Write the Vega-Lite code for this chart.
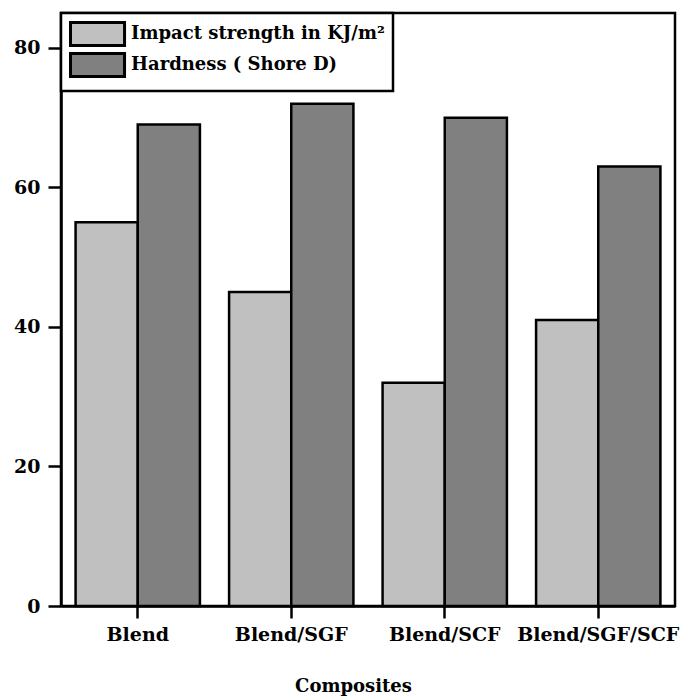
{
  "$schema": "https://vega.github.io/schema/vega-lite/v6.json",
  "width": 614,
  "height": 593,
  "autosize": {"type": "none"},
  "padding": {"left": 61, "top": 13, "right": 11, "bottom": 92},
  "background": "white",
  "config": {
    "view": {"stroke": "black", "strokeWidth": 2.5},
    "axis": {
      "labelFont": "DejaVu Serif",
      "labelFontWeight": "bold",
      "labelColor": "black",
      "titleFont": "DejaVu Serif",
      "titleFontWeight": "bold",
      "titleColor": "black",
      "domainColor": "black",
      "domainWidth": 2.5,
      "tickColor": "black",
      "tickWidth": 2.5,
      "grid": false
    }
  },
  "data": {
    "values": [
      {"composite": "Blend", "series": "Impact strength in KJ/m²", "value": 55},
      {"composite": "Blend", "series": "Hardness ( Shore D)", "value": 69},
      {"composite": "Blend/SGF", "series": "Impact strength in KJ/m²", "value": 45},
      {"composite": "Blend/SGF", "series": "Hardness ( Shore D)", "value": 72},
      {"composite": "Blend/SCF", "series": "Impact strength in KJ/m²", "value": 32},
      {"composite": "Blend/SCF", "series": "Hardness ( Shore D)", "value": 70},
      {"composite": "Blend/SGF/SCF", "series": "Impact strength in KJ/m²", "value": 41},
      {"composite": "Blend/SGF/SCF", "series": "Hardness ( Shore D)", "value": 63}
    ]
  },
  "mark": {"type": "bar", "stroke": "black", "strokeWidth": 2.5},
  "encoding": {
    "x": {
      "field": "composite",
      "type": "nominal",
      "sort": ["Blend", "Blend/SGF", "Blend/SCF", "Blend/SGF/SCF"],
      "scale": {"paddingInner": 0.19, "paddingOuter": 0.095},
      "axis": {
        "title": "Composites",
        "labelAngle": 0,
        "labelFontSize": 19,
        "labelPadding": 7,
        "tickSize": 12,
        "titleFontSize": 18,
        "titleX": 292,
        "titleY": 80,
        "titleBaseline": "middle"
      }
    },
    "xOffset": {
      "field": "series",
      "type": "nominal",
      "sort": ["Impact strength in KJ/m²", "Hardness ( Shore D)"],
      "scale": {"paddingInner": 0, "paddingOuter": 0}
    },
    "y": {
      "field": "value",
      "type": "quantitative",
      "scale": {"domain": [0, 85], "nice": false},
      "axis": {
        "title": null,
        "values": [0, 20, 40, 60, 80],
        "labelFontSize": 19,
        "tickSize": 13,
        "labelPadding": 8
      }
    },
    "color": {
      "field": "series",
      "type": "nominal",
      "scale": {
        "domain": ["Impact strength in KJ/m²", "Hardness ( Shore D)"],
        "range": ["#c0c0c0", "#808080"]
      },
      "legend": {
        "title": null,
        "orient": "top-left",
        "offset": 0,
        "padding": 8,
        "rowPadding": -5,
        "strokeColor": "black",
        "fillColor": "white",
        "symbolType": "M-1,-1H3.7V1H-1Z",
        "symbolSize": 529,
        "symbolStrokeColor": "black",
        "symbolStrokeWidth": 3,
        "symbolOpacity": 1,
        "labelFont": "DejaVu Serif",
        "labelFontWeight": "bold",
        "labelFontSize": 18,
        "labelColor": "black",
        "labelOffset": 36,
        "labelLimit": 400,
        "encode": {"legend": {"update": {"strokeWidth": {"value": 2.5}}}}
      }
    }
  }
}
